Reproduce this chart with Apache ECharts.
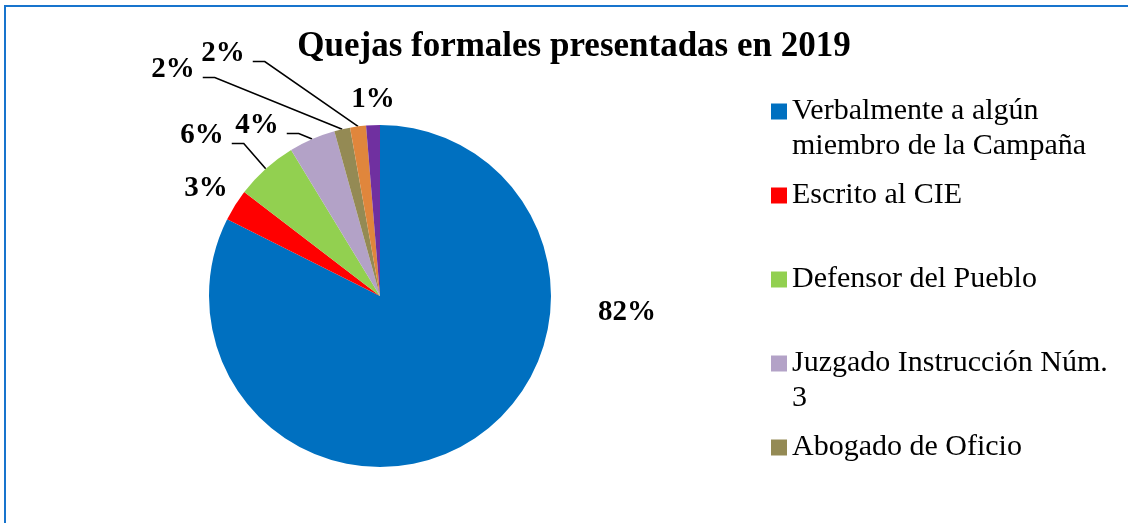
<!DOCTYPE html>
<html>
<head>
<meta charset="utf-8">
<title>Quejas formales presentadas en 2019</title>
<script src="https://cdn.jsdelivr.net/npm/echarts@6/dist/echarts.min.js"></script>
<style>
html, body { margin: 0; padding: 0; background: #fff; overflow: hidden; }
.marco { position: absolute; left: 4px; top: 5px; width: 1200px; height: 600px;
  border-left: 2px solid #1874cd; border-top: 2px solid #1874cd; }
#chart { position: absolute; left: 0; top: 0; width: 1128px; height: 523px; }
</style>
</head>
<body>
<div class="marco"></div>
<div id="chart"></div>
<script>
// datos
var categorias = ['Verbalmente a algún miembro de la Campaña', 'Escrito al CIE', 'Defensor del Pueblo',
  'Juzgado Instrucción Núm. 3', 'Abogado de Oficio', 'Otra vía', 'Sin especificar'];
var porcentajes = [82.4, 3.0, 5.9, 4.4, 1.5, 1.5, 1.3];
var colores = ['#0070c0', '#ff0000', '#92d050', '#b3a2c7', '#948a54', '#e0863c', '#7030a0'];
var conGuia = [false, false, true, true, true, true, false];

// posicion de las etiquetas (centro del texto)
var posEtiquetas = [[627, 313], [206, 189], [202, 136], [257, 126], [173, 70], [223, 54], [373, 100]];

var fuente = 'Liberation Serif';
var tamLeyenda = 30;
var anchoTexto = 327;
var interlinea = 35;

// partir el nombre en lineas segun el ancho disponible
var ctx = document.createElement('canvas').getContext('2d');
ctx.font = tamLeyenda + 'px "' + fuente + '"';
function partir(nombre) {
  var lineas = [], actual = '';
  nombre.split(' ').forEach(function (p) {
    var prueba = actual ? actual + ' ' + p : p;
    if (actual && ctx.measureText(prueba).width > anchoTexto) {
      lineas.push(actual);
      actual = p;
    } else {
      actual = prueba;
    }
  });
  lineas.push(actual);
  return lineas;
}

var chart = echarts.init(document.getElementById('chart'));

var leyendas = [];
for (var i = 0; i < 5; i++) {
  var centro = 111 + i * 84;
  var larga = partir(categorias[i]).length > 1;
  leyendas.push({
    data: [categorias[i]],
    left: 771,
    top: centro - (larga ? interlinea + 17 : 17),
    orient: 'vertical',
    padding: 0,
    icon: 'rect',
    itemWidth: 16,
    itemHeight: 16,
    selectedMode: false,
    // linea en blanco delante para que el cuadro quede a la altura de la primera linea
    formatter: function (nombre) {
      var l = partir(nombre);
      return l.length > 1 ? '\n' + l.join('\n') : nombre;
    },
    textStyle: {
      fontFamily: fuente,
      fontSize: tamLeyenda,
      color: '#000',
      lineHeight: interlinea
    }
  });
}

chart.setOption({
  animation: false,
  title: {
    text: 'Quejas formales presentadas en 2019',
    left: 574,
    top: 29,
    padding: 0,
    textAlign: 'center',
    textStyle: { fontFamily: fuente, fontWeight: 'bold', fontSize: 35, color: '#000' }
  },
  tooltip: { trigger: 'item', formatter: '{b}: {d}%' },
  legend: leyendas,
  series: [{
    type: 'pie',
    center: [380, 296],
    radius: 171,
    startAngle: 90,
    clockwise: true,
    avoidLabelOverlap: false,
    percentPrecision: 0,
    itemStyle: { borderWidth: 0 },
    label: {
      show: true,
      position: 'outside',
      formatter: '{d}%',
      fontFamily: fuente,
      fontWeight: 'bold',
      fontSize: 29,
      color: '#000'
    },
    labelLine: { show: true, lineStyle: { color: '#000', width: 1.6 } },
    labelLayout: function (p) {
      var pos = posEtiquetas[p.dataIndex];
      var res = { x: pos[0], y: pos[1], align: 'center', verticalAlign: 'middle' };
      if (conGuia[p.dataIndex] && p.labelLinePoints) {
        var derecha = pos[0] + p.labelRect.width / 2;
        var yl = pos[1] + 7.5;
        res.labelLinePoints = [p.labelLinePoints[0], [derecha + 20, yl], [derecha + 8, yl]];
      }
      return res;
    },
    data: categorias.map(function (n, i) {
      return {
        name: n,
        value: porcentajes[i],
        itemStyle: { color: colores[i] },
        labelLine: { show: conGuia[i] }
      };
    })
  }]
});
</script>
</body>
</html>
